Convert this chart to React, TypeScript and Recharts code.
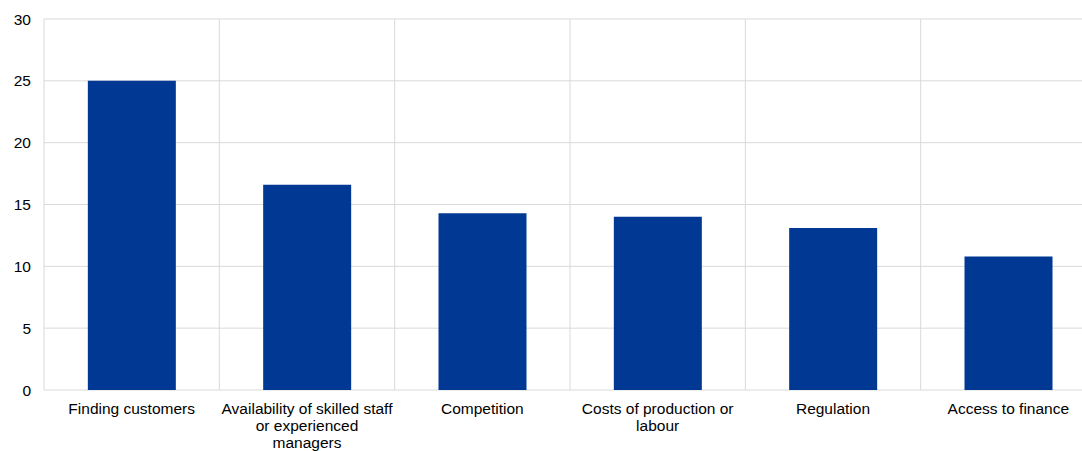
import React from 'react';
import { BarChart, Bar, XAxis, YAxis, CartesianGrid } from 'recharts';

const categories = [
  'Finding customers',
  'Availability of skilled staff\nor experienced\nmanagers',
  'Competition',
  'Costs of production or\nlabour',
  'Regulation',
  'Access to finance',
];
const shares = [25.0, 16.6, 14.3, 14.0, 13.1, 10.8];
const yTicks = [0, 5, 10, 15, 20, 25, 30];

const data = categories.map((name, i) => ({ name, value: shares[i] }));

const FONT = 'Arial, "Liberation Sans", sans-serif';

const CategoryTick = (props: any) => {
  const { x, y, payload } = props;
  const lines = String(payload.value).split('\n');
  return (
    <text x={x} y={y} textAnchor="middle" fill="#000" fontSize={15.5} fontFamily={FONT}>
      {lines.map((line, i) => (
        <tspan key={i} x={x} dy={i === 0 ? '0.71em' : 17}>
          {line}
        </tspan>
      ))}
    </text>
  );
};

// vertical grid lines sit on the category borders, not the bar centres
const borderLines = ({ offset }: any) =>
  categories.map((_, i) => offset.left + (offset.width * i) / categories.length)
    .concat([offset.left + offset.width]);

const App: React.FC = () => {
  return (
    <div style={{ position: 'absolute', left: 0, top: 0, width: 1082, height: 451, overflow: 'hidden', background: '#fff' }}>
      <BarChart
        width={1096}
        height={451}
        data={data}
        margin={{ top: 19, right: 0, bottom: 0, left: 0 }}
        barCategoryGap="25%"
      >
        <CartesianGrid stroke="#d9d9d9" verticalCoordinatesGenerator={borderLines} />
        <XAxis
          dataKey="name"
          axisLine={false}
          tickLine={false}
          tickSize={0}
          tickMargin={13}
          height={61}
          interval={0}
          tick={<CategoryTick />}
        />
        <YAxis
          domain={[0, 30]}
          ticks={yTicks}
          width={44}
          axisLine={false}
          tickLine={false}
          tickSize={0}
          tickMargin={13}
          tick={{ fill: '#000', fontSize: 15.5, fontFamily: FONT }}
        />
        <Bar dataKey="value" fill="#003894" isAnimationActive={false} />
      </BarChart>
    </div>
  );
};

export default App;
